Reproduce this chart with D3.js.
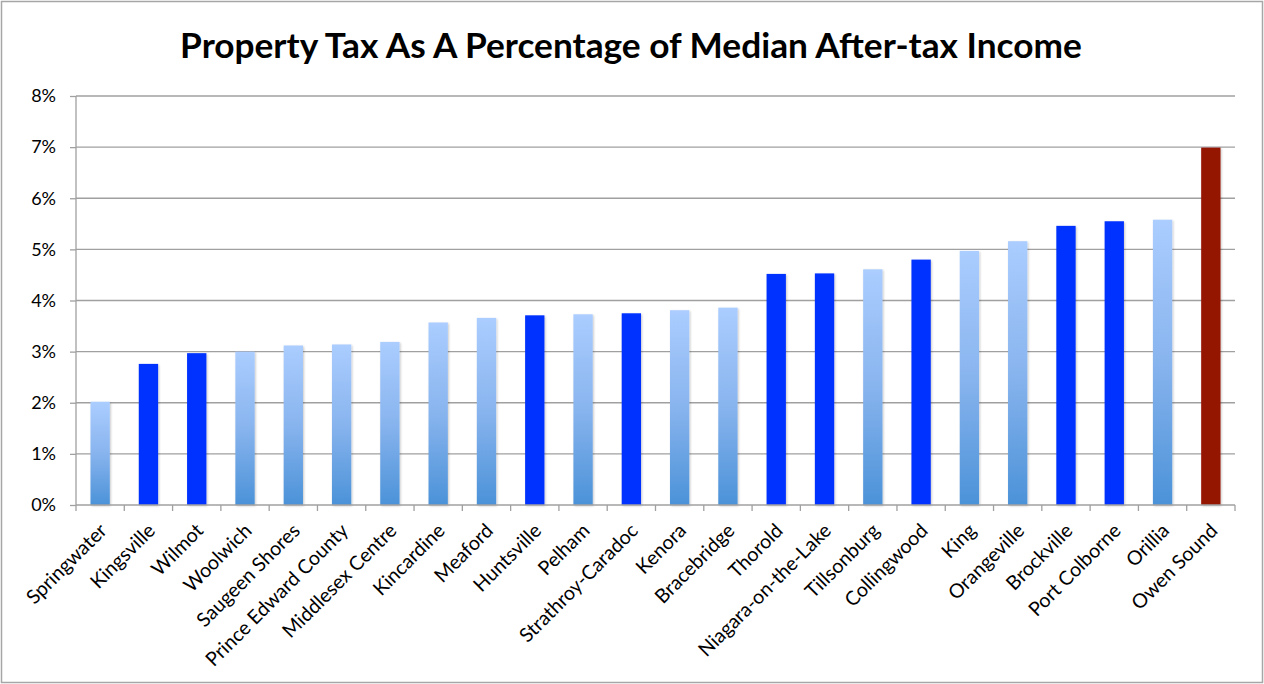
<!DOCTYPE html>
<html>
<head>
<meta charset="utf-8">
<script src="https://cdn.jsdelivr.net/npm/d3@7"></script>
<style>
html,body{margin:0;padding:0;background:#fff;}
svg{display:block;}
text{font-family:Lato,"Open Sans",sans-serif;fill:#000;}
</style>
</head>
<body>
<svg id="chart" width="1264" height="684"></svg>
<script>
const categories = ["Springwater","Kingsville","Wilmot","Woolwich","Saugeen Shores","Prince Edward County","Middlesex Centre","Kincardine","Meaford","Huntsville","Pelham","Strathroy-Caradoc","Kenora","Bracebridge","Thorold","Niagara-on-the-Lake","Tillsonburg","Collingwood","King","Orangeville","Brockville","Port Colborne","Orillia","Owen Sound"];
const values = [2.02,2.76,2.97,3.00,3.12,3.14,3.19,3.57,3.66,3.71,3.73,3.75,3.81,3.86,4.52,4.53,4.61,4.80,4.97,5.16,5.46,5.55,5.58,6.99];
const groups = ["light","dark","dark","light","light","light","light","light","light","dark","light","dark","light","light","dark","dark","light","dark","light","light","dark","dark","light","red"];
const yTicks = [0,1,2,3,4,5,6,7,8];
const title = "Property Tax As A Percentage of Median After-tax Income";

const svg = d3.select("#chart");
const W = 1264, H = 684;
const m = {left:76, right:29, top:96, bottom:179};

const defs = svg.append("defs");
const grad = defs.append("linearGradient").attr("id","lightGrad").attr("x1",0).attr("y1",0).attr("x2",0).attr("y2",1);
grad.append("stop").attr("offset","0%").attr("stop-color","#abcdff");
grad.append("stop").attr("offset","50%").attr("stop-color","#88b4ee");
grad.append("stop").attr("offset","100%").attr("stop-color","#4b92d8");
const f = defs.append("filter").attr("id","shadow").attr("x","-30%").attr("y","-5%").attr("width","160%").attr("height","110%");
f.append("feDropShadow").attr("dx",1).attr("dy",1).attr("stdDeviation",1.2).attr("flood-color","#000").attr("flood-opacity",0.22);

// outer frame
svg.append("rect").attr("x",1.5).attr("y",1.5).attr("width",W-3).attr("height",H-3)
  .attr("fill","#fff").attr("stroke","#a6a6a6").attr("stroke-width",1.5);

const x = d3.scaleBand().domain(categories).range([m.left, W-m.right]).paddingInner(0.6).paddingOuter(0.3);
const xb = d3.scaleBand().domain(categories).range([m.left, W-m.right]);
const y = d3.scaleLinear().domain([0,8]).range([H-m.bottom, m.top]);

// gridlines
svg.append("g").selectAll("line").data(yTicks.filter(d=>d>0)).join("line")
  .attr("x1",m.left).attr("x2",W-m.right)
  .attr("y1",d=>y(d)).attr("y2",d=>y(d))
  .attr("stroke","#a0a0a0").attr("stroke-width",1.3);

// bars
const colorOf = g => g==="light" ? "url(#lightGrad)" : g==="dark" ? "#0532ff" : "#941200";
svg.append("g").selectAll("rect").data(categories).join("rect")
  .attr("x",d=>x(d)).attr("width",x.bandwidth())
  .attr("y",(d,i)=>y(values[i])).attr("height",(d,i)=>y(0)-y(values[i]))
  .attr("fill",(d,i)=>colorOf(groups[i]))
  .attr("filter","url(#shadow)");

// y axis
const yAxis = d3.axisLeft(y).tickValues(yTicks).tickFormat(d=>d+"%").tickSize(6).tickPadding(14);
const gy = svg.append("g").attr("transform",`translate(${m.left},0)`).call(yAxis);
gy.attr("font-size",null).attr("font-family",null);
gy.select(".domain").attr("stroke","#a0a0a0").attr("stroke-width",1.3).attr("d",`M0,${y(8)}V${y(0)}`);
gy.selectAll(".tick line").attr("stroke","#a0a0a0").attr("stroke-width",1.3);
gy.selectAll(".tick text").style("font-size","18px").style("font-family","Lato,'Open Sans',sans-serif").attr("fill","#000");

// x axis
const xAxis = d3.axisBottom(xb).tickSize(6).tickFormat("");
const gx = svg.append("g").attr("transform",`translate(0,${y(0)})`).call(xAxis);
gx.select(".domain").attr("stroke","#a0a0a0").attr("stroke-width",1.3).attr("d",`M${m.left},0H${W-m.right}`);
gx.selectAll(".tick line").attr("stroke","#a0a0a0").attr("stroke-width",1.3)
  .attr("transform",`translate(${-xb.bandwidth()/2},0)`);
gx.append("line").attr("x1",W-m.right).attr("x2",W-m.right).attr("y1",0).attr("y2",6).attr("stroke","#a0a0a0").attr("stroke-width",1.3);

// x labels
const labels = svg.append("g").selectAll("text").data(categories).join("text")
  .attr("transform",d=>`translate(${xb(d)+xb.bandwidth()/2+3},${y(0)+22}) rotate(-45)`)
  .attr("text-anchor","end").style("font-size","18px").attr("dy","0.35em")
  .text(d=>d);
const pec = labels.filter(d=>d==="Prince Edward County").node().getComputedTextLength();
labels.style("font-size",(18*192/pec)+"px");

// title
const t = svg.append("text").attr("x",(180+1082)/2).attr("y",58).attr("text-anchor","middle")
  .attr("font-weight","bold").style("font-size","31px").text(title);
const tl = t.node().getComputedTextLength();
t.style("font-size",(31*902/tl)+"px");
</script>
</body>
</html>
